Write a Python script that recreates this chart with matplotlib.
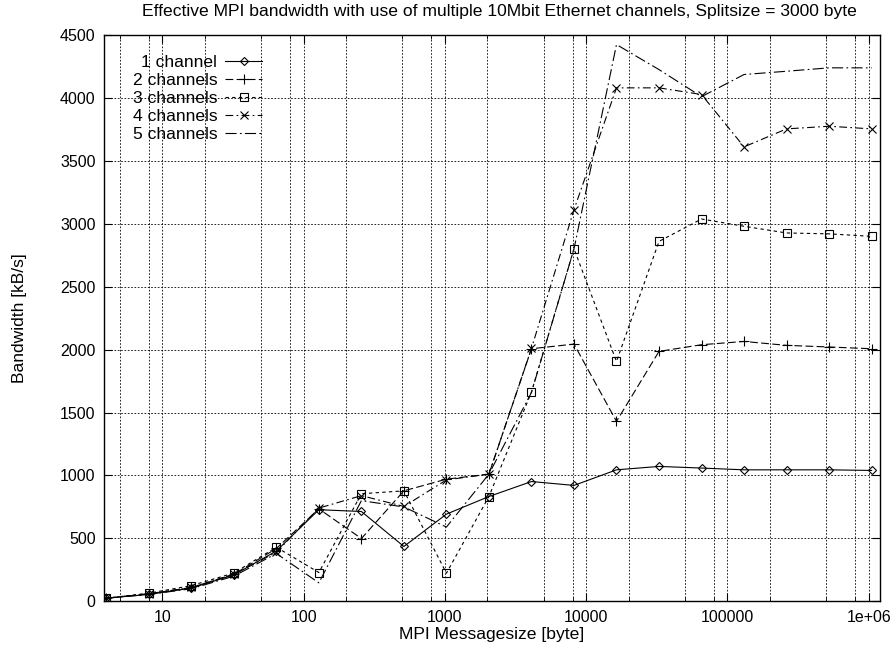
import matplotlib
matplotlib.use("Agg")
import matplotlib.pyplot as plt
from matplotlib.ticker import LogLocator, FixedLocator, NullFormatter
import numpy as np

plt.rcParams['font.family'] = ['Liberation Sans', 'DejaVu Sans']

sizes = [4, 8, 16, 32, 64, 128, 256, 512, 1024, 2048, 4096, 8192, 16384,
         32768, 65536, 131072, 262144, 524288, 1048576]

ch1 = [25, 55, 105, 210, 400, 728, 714, 436, 693, 833, 952, 921, 1045,
       1072, 1059, 1045, 1045, 1045, 1040]
ch2 = [25, 60, 110, 215, 420, 735, 499, 878, 971, 1011, 2007, 2044, 1430,
       1986, 2039, 2065, 2034, 2021, 2007]
ch3 = [25, 65, 125, 225, 430, 229, 855, 878, 224, 833, 1663, 2802, 1906,
       2860, 3038, 2980, 2927, 2920, 2900]
ch4 = [25, 60, 110, 215, 390, 741, 840, 754, 965, 1011, 2010, 3112, 4080,
       4080, 4027, 3611, 3754, 3775, 3754]
ch5 = [25, 55, 100, 200, 380, 147, 800, 750, 590, 1011, 1660, 2800, 4424,
       4225, 4010, 4186, 4212, 4239, 4239]

labels = ['1 channel', '2 channels', '3 channels', '4 channels', '5 channels']
title = 'Effective MPI bandwidth with use of multiple 10Mbit Ethernet channels, Splitsize = 3000 byte'
xlabel = 'MPI Messagesize [byte]'
ylabel = 'Bandwidth [kB/s]'
xticks = [10, 100, 1000, 10000, 100000, 1000000]
xticklabels = ['10', '100', '1000', '10000', '100000', '1e+06']
yticks = list(range(0, 4501, 500))

FS = 12.6

fig = plt.figure(figsize=(8.96, 6.48), dpi=100)
ax = fig.add_axes([0.116, 0.072, 0.866, 0.874])

styles = [
    dict(ls='-', marker='D', ms=4.5),
    dict(ls=(0, (7, 3)), marker='+', ms=7.5),
    dict(ls=(0, (3, 3)), marker='s', ms=6),
    dict(ls=(0, (7, 3, 1.5, 3)), marker='x', ms=5.5),
    dict(ls=(0, (10, 3, 1.5, 3)), marker=None, ms=0),
]
series = [ch1, ch2, ch3, ch4, ch5]
for ys, lab, st in zip(series, labels, styles):
    ax.plot(sizes, ys, color='black', lw=0.8, linestyle=st['ls'],
            marker=st['marker'], ms=st['ms'], mfc='none', mec='black', mew=0.8,
            label=lab)

ax.set_xscale('log')
ax.set_xlim(3.85, 1.2e6)
ax.set_ylim(0, 4500)
ax.xaxis.set_major_locator(FixedLocator(xticks))
ax.set_xticklabels(xticklabels)
ax.xaxis.set_minor_locator(LogLocator(base=10, subs=[2, 5, 8], numticks=20))
ax.xaxis.set_minor_formatter(NullFormatter())
ax.set_yticks(yticks)
ax.tick_params(axis='both', which='both', direction='in', top=True, right=True,
               labelsize=11.5, colors='black')
ax.tick_params(which='major', length=6)
ax.tick_params(which='minor', length=3)
ax.tick_params(axis='x', pad=6)
ax.tick_params(axis='y', pad=6)

ax.grid(True, which='major', color='black', linestyle=(0, (2, 2)), lw=0.6)
ax.grid(True, which='minor', axis='x', color='black', linestyle=(0, (2, 2)), lw=0.6)

for sp in ax.spines.values():
    sp.set_linewidth(1.0)

ax.text(0.510, 1.0406, title, transform=ax.transAxes, ha='center', va='center',
        fontsize=FS)
ax.set_xlabel(xlabel, fontsize=FS)
ax.xaxis.set_label_coords(0.5, -0.046)
ax.set_ylabel(ylabel, fontsize=FS, va='center')
ax.yaxis.set_label_coords(-0.109, 0.5)

leg = ax.legend(loc='upper right', bbox_to_anchor=(0.2036, 0.965), frameon=False,
                markerfirst=False, handlelength=2.1, handletextpad=0.45,
                labelspacing=0.16, fontsize=FS, borderaxespad=0, borderpad=0)

fig.savefig('out.png', dpi=100)
